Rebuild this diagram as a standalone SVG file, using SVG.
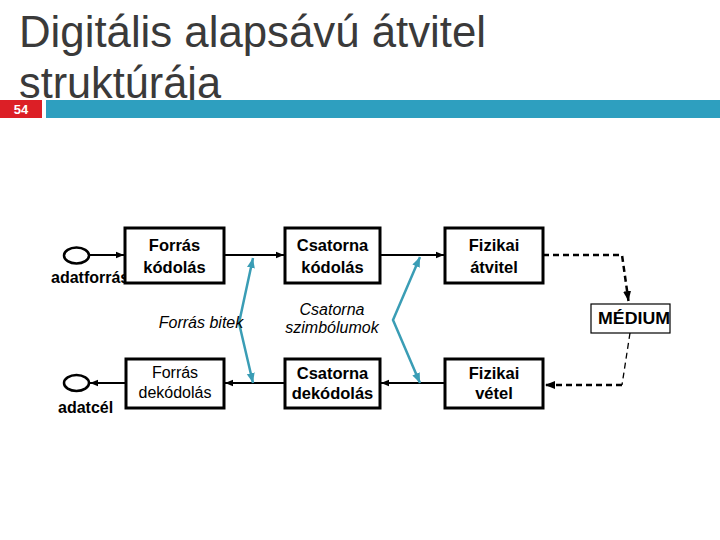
<svg xmlns="http://www.w3.org/2000/svg" width="720" height="540" viewBox="0 0 720 540">
<style>
.title{font-family:"Liberation Sans",Arial,sans-serif;font-size:45px;fill:#3a3a3a}
.box{fill:#fff;stroke:#000;stroke-width:3}
.b{font-family:"Liberation Sans",Arial,sans-serif;font-size:16.5px;font-weight:bold;fill:#000;text-anchor:middle}
.r{font-family:"Liberation Sans",Arial,sans-serif;font-size:16px;fill:#000;text-anchor:middle}
.i{font-family:"Liberation Sans",Arial,sans-serif;font-size:16px;font-style:italic;fill:#000;text-anchor:middle}
.lbl{font-family:"Liberation Sans",Arial,sans-serif;font-size:16px;font-weight:bold;fill:#000}
.ln{fill:none;stroke:#000;stroke-width:2}
.blue{fill:none;stroke:#3a9db5;stroke-width:2.5}
.dash{fill:none;stroke:#000;stroke-width:2.5;stroke-dasharray:6 4}
.dashthin{fill:none;stroke:#000;stroke-width:1.3;stroke-dasharray:6 4}
</style>
<defs>
<marker id="ah" viewBox="0 0 10 10" refX="10" refY="5" markerWidth="4" markerHeight="4" orient="auto" markerUnits="strokeWidth">
<path d="M0,1 L10,5 L0,9 z" fill="#000"/>
</marker>
<marker id="ahb" viewBox="0 0 10 10" refX="10" refY="5" markerWidth="4" markerHeight="4" orient="auto-start-reverse" markerUnits="strokeWidth">
<path d="M0,1 L10,5 L0,9 z" fill="#3a9db5"/>
</marker>
</defs>
<rect width="720" height="540" fill="#fff"/>
<g id="title">
<text class="title" x="19" y="47" textLength="467" lengthAdjust="spacingAndGlyphs">Digitális alapsávú átvitel</text>
<text class="title" x="19" y="98" textLength="202" lengthAdjust="spacingAndGlyphs">struktúrája</text>
<rect x="46" y="100" width="674" height="18" fill="#2e9fbf"/>
<rect x="0" y="100" width="42" height="18" fill="#dc1f26"/>
<text x="21" y="114" font-family="Liberation Sans,Arial,sans-serif" font-size="13" font-weight="bold" fill="#fff" text-anchor="middle">54</text>
</g>
<g id="connectors">
<line class="ln" x1="89" y1="255" x2="124" y2="255" marker-end="url(#ah)"/>
<line class="ln" x1="224" y1="255" x2="284" y2="255" marker-end="url(#ah)"/>
<line class="ln" x1="380" y1="255" x2="444" y2="255" marker-end="url(#ah)"/>
<line class="ln" x1="445" y1="383" x2="381" y2="383" marker-end="url(#ah)"/>
<line class="ln" x1="285" y1="383" x2="225" y2="383" marker-end="url(#ah)"/>
<line class="ln" x1="126" y1="383" x2="90" y2="383" marker-end="url(#ah)"/>
<polyline class="blue" points="253,258 239,323 253,383" marker-start="url(#ahb)" marker-end="url(#ahb)"/>
<polyline class="blue" points="420,257 393,320 420,383" marker-start="url(#ahb)" marker-end="url(#ahb)"/>
<polyline class="dash" points="543,255 622,255 628.5,301" marker-end="url(#ah)" stroke-dasharray="6 4"/>
<polyline class="dashthin" points="630,333 622,385"/>
<polyline class="dash" points="622,385 545,385" marker-end="url(#ah)"/>
</g>
<g id="adatforras">
<ellipse cx="76.5" cy="255.5" rx="12.5" ry="8" fill="#fff" stroke="#000" stroke-width="2.5"/>
<text class="lbl" x="51" y="283">adatforrás</text>
</g>
<g id="adatcel">
<ellipse cx="76.5" cy="383" rx="12.5" ry="8" fill="#fff" stroke="#000" stroke-width="2.5"/>
<text class="lbl" x="58" y="413">adatcél</text>
</g>
<g id="forras-kodolas">
<rect class="box" x="125" y="228" width="99" height="55"/>
<text class="b" x="174.5" y="251">Forrás</text>
<text class="b" x="174.5" y="273">kódolás</text>
</g>
<g id="csatorna-kodolas">
<rect class="box" x="285" y="228" width="95" height="55"/>
<text class="b" x="332.5" y="251">Csatorna</text>
<text class="b" x="332.5" y="273">kódolás</text>
</g>
<g id="fizikai-atvitel">
<rect class="box" x="445" y="228" width="98" height="55"/>
<text class="b" x="494" y="251">Fizikai</text>
<text class="b" x="494" y="273">átvitel</text>
</g>
<g id="forras-dekodolas">
<rect class="box" x="126" y="359" width="98" height="49"/>
<text class="r" x="175" y="378">Forrás</text>
<text class="r" x="175" y="398">dekódolás</text>
</g>
<g id="csatorna-dekodolas">
<rect class="box" x="285" y="359" width="95" height="49"/>
<text class="b" x="332.5" y="379">Csatorna</text>
<text class="b" x="332.5" y="399">dekódolás</text>
</g>
<g id="fizikai-vetel">
<rect class="box" x="445" y="359" width="98" height="49"/>
<text class="b" x="494" y="379">Fizikai</text>
<text class="b" x="494" y="399">vétel</text>
</g>
<g id="medium">
<rect x="591" y="304" width="79" height="29" fill="#fff" stroke="#000" stroke-width="1.2"/>
<text x="634" y="324" font-family="Liberation Sans,Arial,sans-serif" font-size="17" font-weight="bold" text-anchor="middle" textLength="72" lengthAdjust="spacingAndGlyphs">MÉDIUM</text>
</g>
<g id="labels">
<text class="i" x="201" y="328">Forrás bitek</text>
<text class="i" x="332" y="315">Csatorna</text>
<text class="i" x="332" y="333">szimbólumok</text>
</g>
</svg>
